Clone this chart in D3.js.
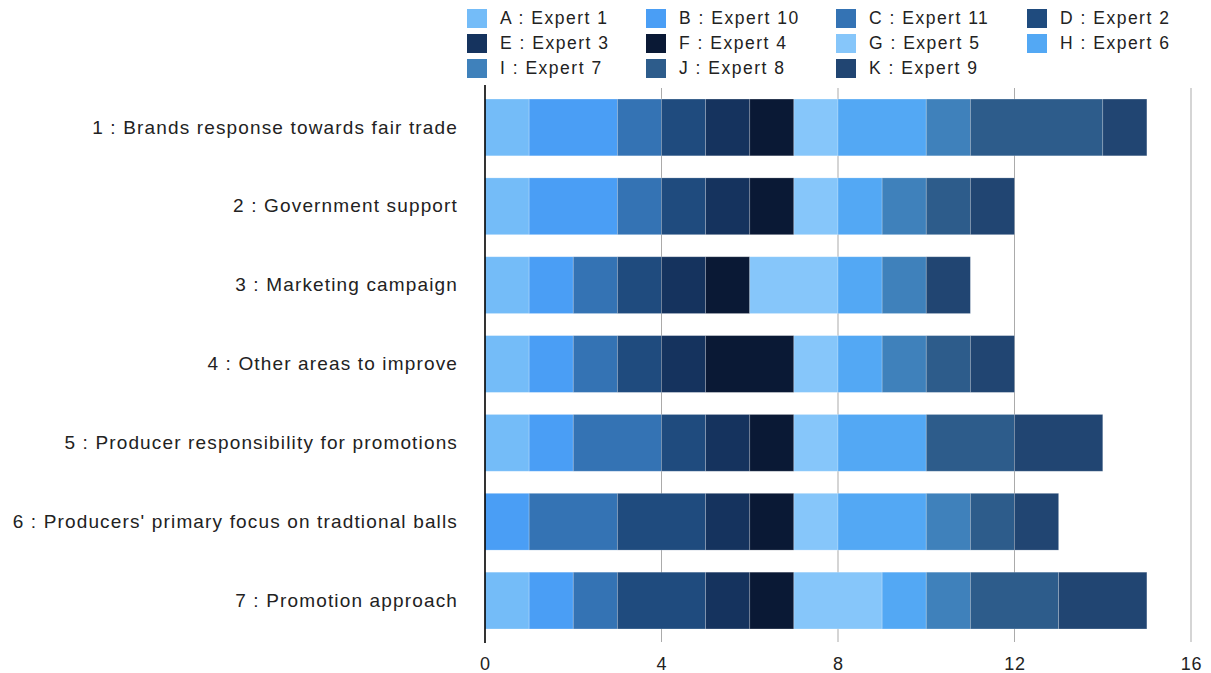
<!DOCTYPE html>
<html>
<head>
<meta charset="utf-8">
<script src="https://cdn.jsdelivr.net/npm/d3@7"></script>
<style>
  html, body { margin: 0; padding: 0; background: #fff; }
  svg { display: block; font-family: "Liberation Sans", Arial, Helvetica, sans-serif; }
</style>
</head>
<body>
<svg id="chart" width="1211" height="673"></svg>
<script>
// Criteria rated by each expert
const categories = [
  "1 : Brands response towards fair trade",
  "2 : Government support",
  "3 : Marketing campaign",
  "4 : Other areas to improve",
  "5 : Producer responsibility for promotions",
  "6 : Producers' primary focus on tradtional balls",
  "7 : Promotion approach"
];

const seriesNames = [
  "A : Expert 1", "B : Expert 10", "C : Expert 11", "D : Expert 2",
  "E : Expert 3", "F : Expert 4", "G : Expert 5", "H : Expert 6",
  "I : Expert 7", "J : Expert 8", "K : Expert 9"
];

// One value per category, in category order
const expert1  = [1, 1, 1, 1, 1, 0, 1];
const expert10 = [2, 2, 1, 1, 1, 1, 1];
const expert11 = [1, 1, 1, 1, 2, 2, 1];
const expert2  = [1, 1, 1, 1, 1, 2, 2];
const expert3  = [1, 1, 1, 1, 1, 1, 1];
const expert4  = [1, 1, 1, 2, 1, 1, 1];
const expert5  = [1, 1, 2, 1, 1, 1, 2];
const expert6  = [2, 1, 1, 1, 2, 2, 1];
const expert7  = [1, 1, 1, 1, 0, 1, 1];
const expert8  = [3, 1, 0, 1, 2, 1, 2];
const expert9  = [1, 1, 1, 1, 2, 1, 2];

const seriesValues = [expert1, expert10, expert11, expert2, expert3, expert4,
                      expert5, expert6, expert7, expert8, expert9];

const colors = ["#74bcf8", "#4a9ef5", "#3473b4", "#1f4b7e", "#15335e", "#0a1935",
                "#86c6fa", "#53a8f4", "#3f81bb", "#2d5c8b", "#214572"];

const xTicks = [0, 4, 8, 12, 16];

const svg = d3.select("#chart");
const margin = { left: 485, top: 88 };
const plotRight = 1191;
const plotBottom = 640;

const x = d3.scaleLinear().domain([0, 16]).range([margin.left, plotRight]);
const y = d3.scaleBand().domain(categories).range([margin.top, plotBottom])
  .paddingInner(0.28).paddingOuter(0.14);
const color = d3.scaleOrdinal().domain(seriesNames).range(colors);

// Build rows for the stack
const rows = categories.map((c, i) => {
  const r = { category: c };
  seriesNames.forEach((s, j) => { r[s] = seriesValues[j][i]; });
  return r;
});
const stacked = d3.stack().keys(seriesNames)(rows);

// Vertical grid lines
svg.append("g")
  .selectAll("line")
  .data(xTicks.filter(t => t > 0))
  .join("line")
  .attr("x1", d => x(d)).attr("x2", d => x(d))
  .attr("y1", margin.top).attr("y2", plotBottom + 2)
  .attr("stroke", "#ababab").attr("stroke-width", 1);

// Stacked bars
svg.append("g")
  .selectAll("g")
  .data(stacked)
  .join("g")
  .attr("fill", d => color(d.key))
  .selectAll("rect")
  .data(d => d.filter(p => p[1] > p[0]))
  .join("rect")
  .attr("x", d => x(d[0]))
  .attr("y", d => y(d.data.category))
  .attr("width", d => x(d[1]) - x(d[0]))
  .attr("height", y.bandwidth())
  .attr("stroke", "rgba(255,255,255,0.25)")
  .attr("stroke-width", 0.8);

// Category axis (left)
const yAxis = svg.append("g")
  .attr("transform", `translate(${margin.left},0)`)
  .call(d3.axisLeft(y).tickSize(0).tickPadding(27));
yAxis.select(".domain").remove();
yAxis.selectAll("text")
  .attr("font-size", 19)
  .attr("letter-spacing", 1.15)
  .attr("fill", "#222")
  .attr("font-family", "'Liberation Sans', Arial, sans-serif");

// Baseline
svg.append("line")
  .attr("x1", x(0)).attr("x2", x(0))
  .attr("y1", margin.top - 3).attr("y2", plotBottom + 3)
  .attr("stroke", "#000").attr("stroke-width", 1.6);

// Value axis (bottom)
const xAxis = svg.append("g")
  .attr("transform", `translate(0,${plotBottom})`)
  .call(d3.axisBottom(x).tickValues(xTicks).tickSize(0).tickPadding(17).tickFormat(d3.format("d")));
xAxis.select(".domain").remove();
xAxis.selectAll("text")
  .attr("font-size", 18)
  .attr("letter-spacing", 0.8)
  .attr("fill", "#222")
  .attr("font-family", "'Liberation Sans', Arial, sans-serif");

// Legend: 4 columns, rows filled left to right
const legendCols = [467, 646, 836, 1027];
const legendRows = [18, 43, 68];
const legend = svg.append("g")
  .selectAll("g")
  .data(seriesNames)
  .join("g")
  .attr("transform", (d, i) => `translate(${legendCols[i % 4]},${legendRows[Math.floor(i / 4)]})`);
legend.append("rect")
  .attr("x", 0).attr("y", -9)
  .attr("width", 20).attr("height", 19)
  .attr("fill", d => color(d));
legend.append("text")
  .attr("x", 33).attr("y", 0)
  .attr("dy", "0.35em")
  .attr("font-size", 17.5)
  .attr("letter-spacing", 1.5)
  .attr("fill", "#222")
  .text(d => d);
</script>
</body>
</html>
